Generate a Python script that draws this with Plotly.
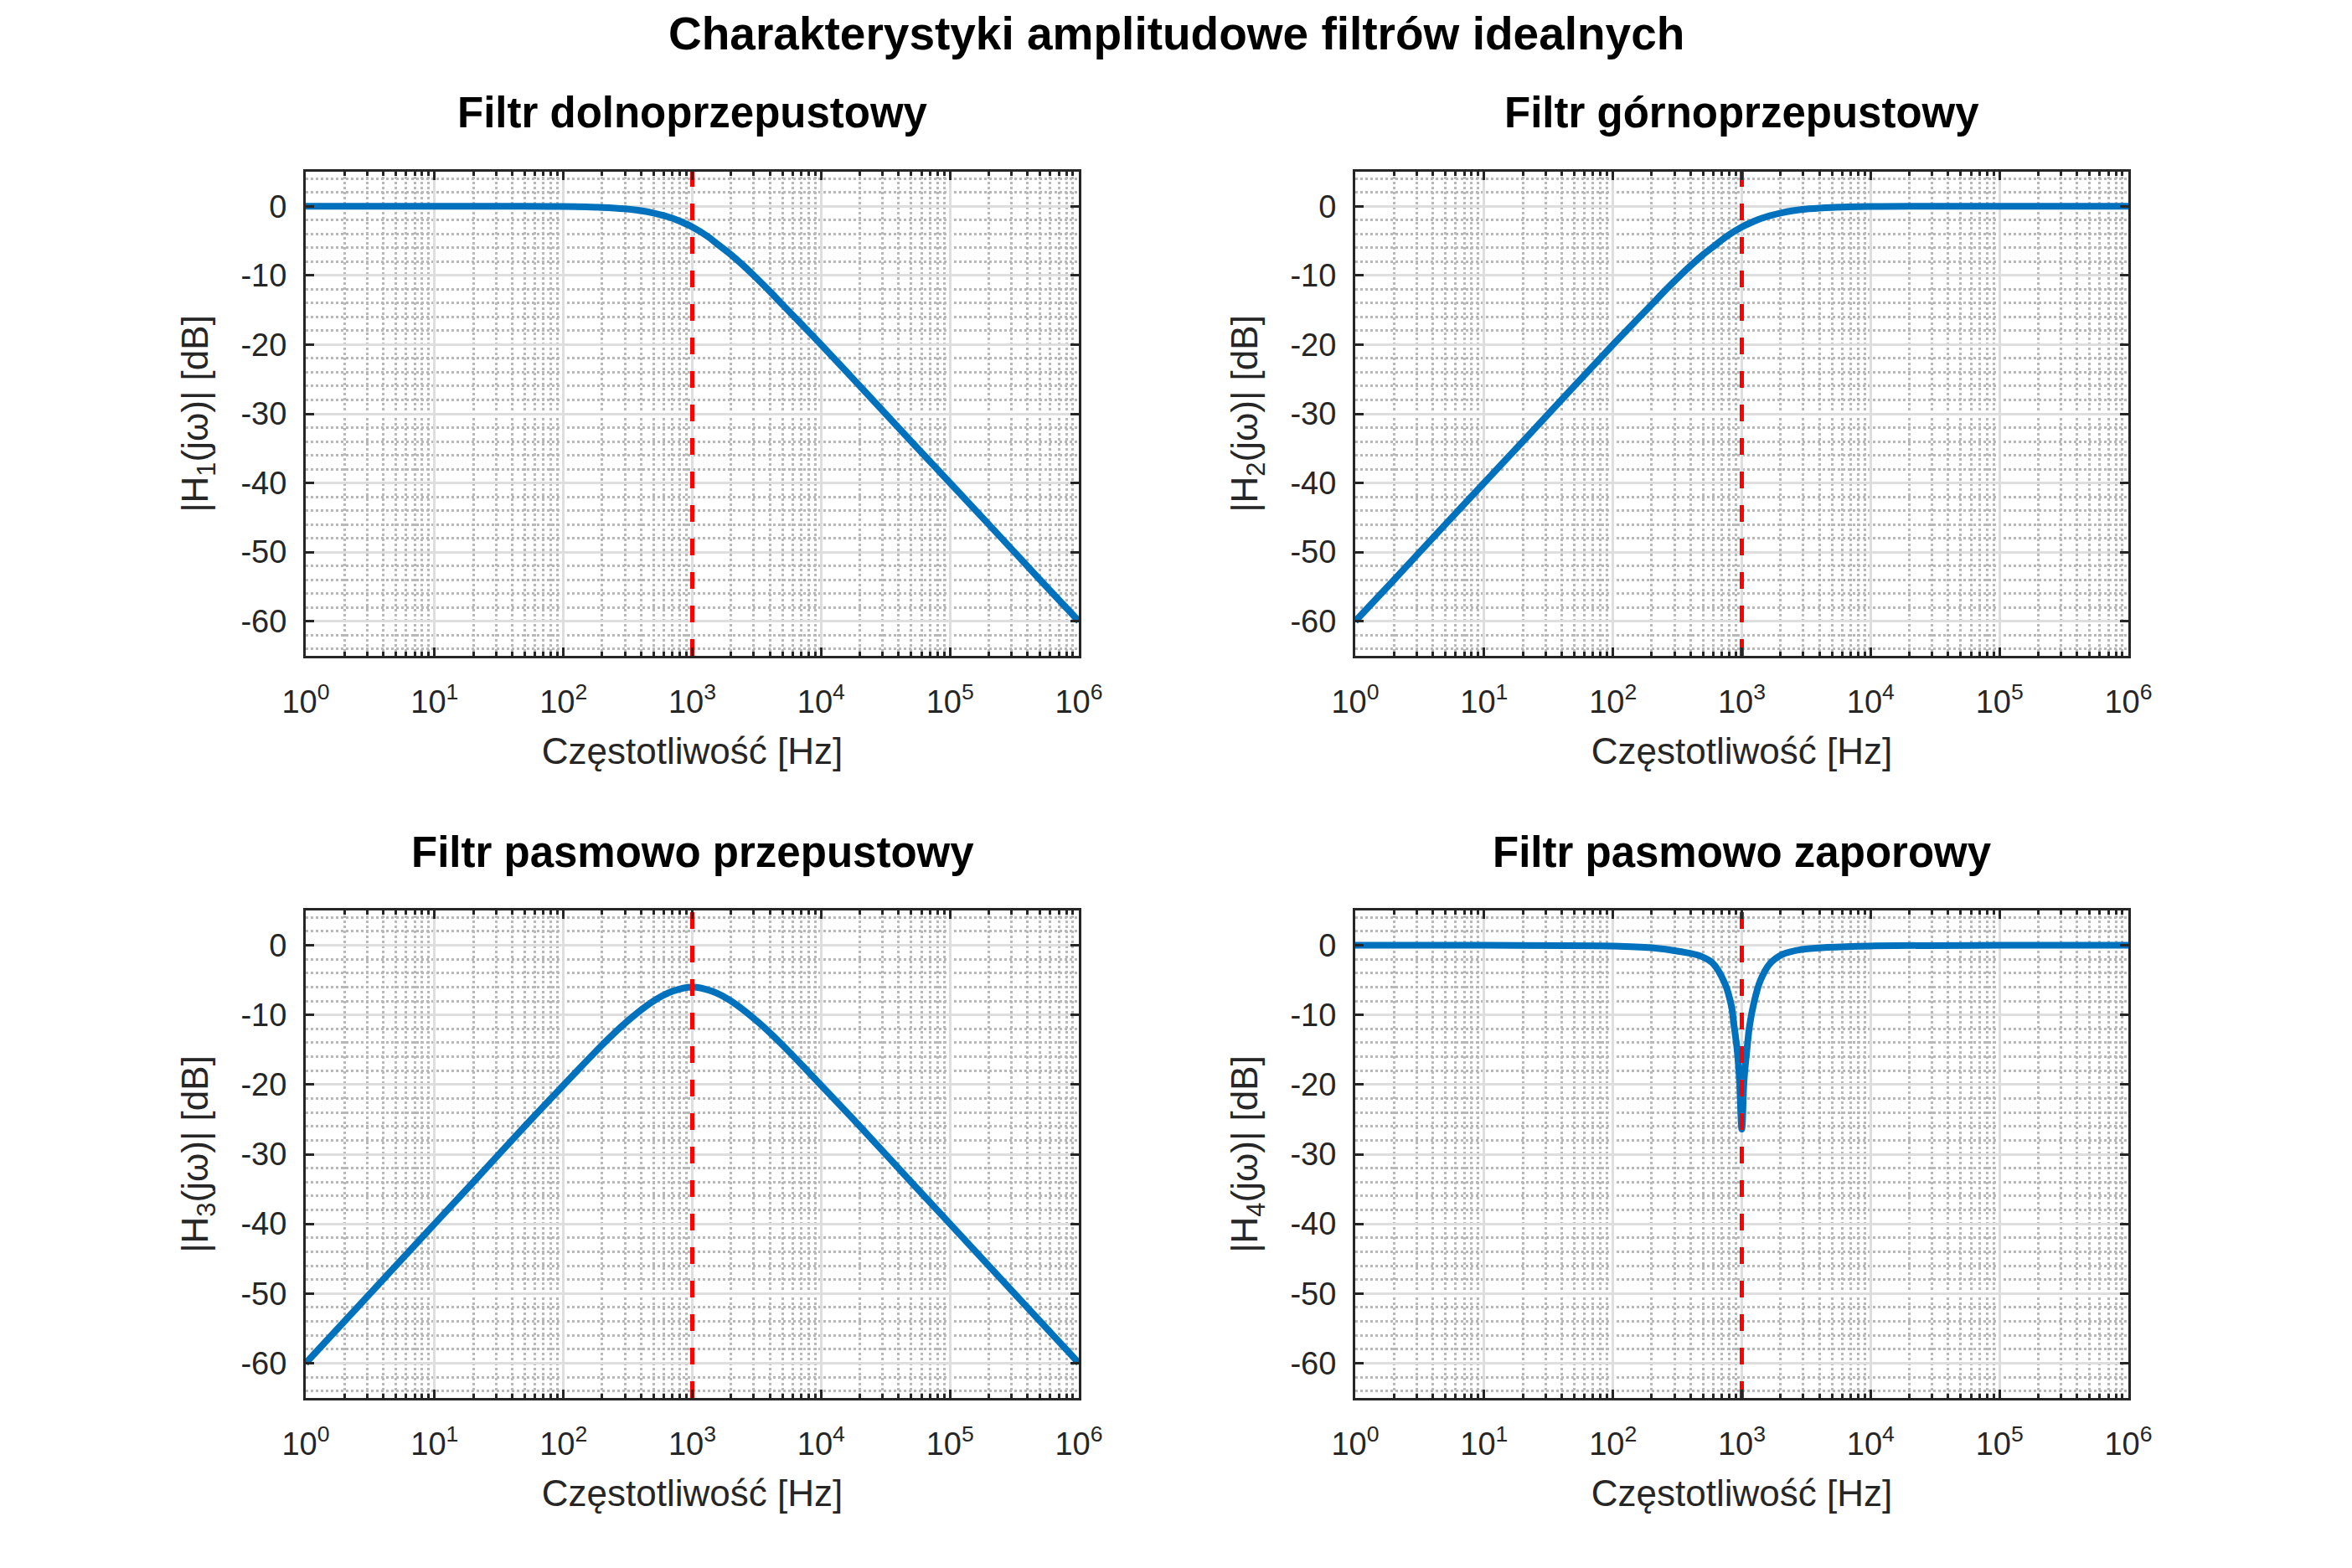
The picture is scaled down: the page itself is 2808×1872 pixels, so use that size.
import plotly.graph_objects as go

# --- data (frequency in Hz, magnitude in dB) ---
f_lp = [1, 10, 50, 100, 200, 300, 400, 500, 600, 700, 800, 1000, 1300, 1600, 2000,
        2500, 3000, 4000, 5000, 7000, 10000, 20000, 50000, 100000, 200000, 500000, 1000000]
h_lp = [0, 0, -0.01, -0.04, -0.17, -0.37, -0.64, -0.97, -1.34, -1.73, -2.15, -3.0, -4.3, -5.6, -7.0,
        -8.6, -10.0, -12.3, -14.2, -17.0, -20.0, -26.0, -34.0, -40.0, -46.0, -54.0, -60.0]

f_hp = [1, 2, 5, 10, 20, 50, 100, 143, 200, 250, 333, 400, 500, 625, 770, 1000,
        1250, 1430, 1670, 2000, 2500, 3330, 5000, 10000, 20000, 100000, 1000000]
h_hp = [-60, -54, -46, -40, -34, -26, -20, -17, -14.2, -12.3, -10, -8.6, -7.0, -5.6, -4.3, -3.0,
        -2.15, -1.73, -1.34, -0.97, -0.64, -0.37, -0.17, -0.04, -0.01, 0, 0]

f_bp = [1, 10, 20, 50, 100, 200, 300, 500, 700, 1000, 1430, 2000, 3330, 5000, 10000,
        20000, 50000, 100000, 1000000]
h_bp = [-60, -40, -34, -26, -20.1, -14.3, -11.2, -8.0, -6.6, -6.0, -6.6, -8.0, -11.2, -14.3, -20.1,
        -26, -34, -40, -60]

f_bs = [1, 10, 100, 200, 330, 470, 590, 740, 830, 870, 920, 960, 990, 1000, 1010, 1040, 1100, 1150,
        1240, 1390, 1640, 2070, 2910, 4600, 10000, 100000, 1000000]
h_bs = [0, 0, -0.1, -0.36, -0.9, -1.5, -2.5, -5.5, -8.7, -11.5, -15.0, -19.5, -25.5, -26.4, -25.5, -19.5,
        -14.7, -11.5, -8.3, -5.1, -2.7, -1.3, -0.6, -0.3, -0.1, 0, 0]

f_cut = [1000, 1000]
h_cut = [-65, 5]

decades = [1, 10, 100, 1000, 10000, 100000, 1000000]
decade_text = ["10<sup>%d</sup>" % i for i in range(7)]
db_ticks = [-60, -50, -40, -30, -20, -10, 0]
db_text = ["-60", "-50", "-40", "-30", "-20", "-10", "0"]

titles = ["Filtr dolnoprzepustowy", "Filtr górnoprzepustowy",
          "Filtr pasmowo przepustowy", "Filtr pasmowo zaporowy"]
ylabels = ["|H<sub>1</sub>(jω)| [dB]", "|H<sub>2</sub>(jω)| [dB]",
           "|H<sub>3</sub>(jω)| [dB]", "|H<sub>4</sub>(jω)| [dB]"]
curves = [(f_lp, h_lp), (f_hp, h_hp), (f_bp, h_bp), (f_bs, h_bs)]

W, H = 2808, 1872
OFF = 8  # page body margin
FONT = "Liberation Sans, Arial, Helvetica, sans-serif"
AX = "#262626"

# axes boxes in screen pixels (left, right, top, bottom)
boxes = [(365, 1288, 205, 783), (1618, 2541, 205, 783),
         (365, 1288, 1087, 1669), (1618, 2541, 1087, 1669)]


def px(xp):
    return (xp - OFF) / W


def py(yp):
    return 1 - (yp - OFF) / H


minor_x = [k * 10 ** d for d in range(6) for k in range(2, 10)]

fig = go.Figure()
layout = dict(width=W, height=H, margin=dict(l=0, r=0, t=0, b=0),
              paper_bgcolor="white", plot_bgcolor="white", showlegend=False,
              font=dict(family=FONT, color=AX, size=38))
annotations = [dict(text="<b>Charakterystyki amplitudowe filtrów idealnych</b>",
                    x=px(1404), y=1, xref="paper", yref="paper", borderpad=0,
                    showarrow=False, font=dict(size=55, color="black"),
                    xanchor="center", yanchor="top")]

for i, (box, (fx, hy)) in enumerate(zip(boxes, curves)):
    n = "" if i == 0 else str(i + 1)
    l, r, t, b = box
    common = dict(showline=True, mirror="ticks", linecolor=AX, linewidth=3,
                  ticks="inside", tickcolor=AX, ticklen=10, tickwidth=3,
                  showgrid=True, gridcolor="#dedede", gridwidth=3, zeroline=False,
                  automargin=False, tickfont=dict(size=38, color=AX))
    layout["xaxis" + n] = dict(common, type="log", range=[0, 6],
                               domain=[px(l), px(r)], anchor="y" + n,
                               tickvals=decades, ticktext=decade_text,
                               ticklabelstandoff=19,
                               minor=dict(tickvals=minor_x, ticks="inside", ticklen=5,
                                          tickcolor=AX, tickwidth=3, showgrid=True,
                                          gridcolor="#b8b8b8", gridwidth=2.5, griddash="dot"),
                               title=dict(text="Częstotliwość [Hz]", standoff=24,
                                          font=dict(size=44, color=AX)))
    layout["yaxis" + n] = dict(common, range=[-65, 5],
                               domain=[py(b), py(t)], anchor="x" + n,
                               tickvals=db_ticks, ticktext=db_text,
                               ticklabelstandoff=12,
                               minor=dict(dtick=2, tick0=0, ticks="", showgrid=True,
                                          gridcolor="#b8b8b8", gridwidth=2.5, griddash="dot"),
                               title=dict(text=ylabels[i], standoff=26,
                                          font=dict(size=44, color=AX)))
    annotations.append(dict(text="<b>%s</b>" % titles[i], x=px((l + r) / 2),
                            y=py(t - 70), xref="paper", yref="paper",
                            showarrow=False, font=dict(size=51, color="black"),
                            xanchor="center", yanchor="middle"))

    fig.add_trace(go.Scatter(x=fx, y=hy, mode="lines", line_shape="spline",
                             line=dict(color="#0072BD", width=8),
                             xaxis="x" + n, yaxis="y" + n))
    fig.add_trace(go.Scatter(x=f_cut, y=h_cut, mode="lines",
                             line=dict(color="#FF0000", width=5, dash="20px,20px"),
                             xaxis="x" + n, yaxis="y" + n))

layout["annotations"] = annotations
fig.update_layout(**layout)
fig.write_html("out.html")
